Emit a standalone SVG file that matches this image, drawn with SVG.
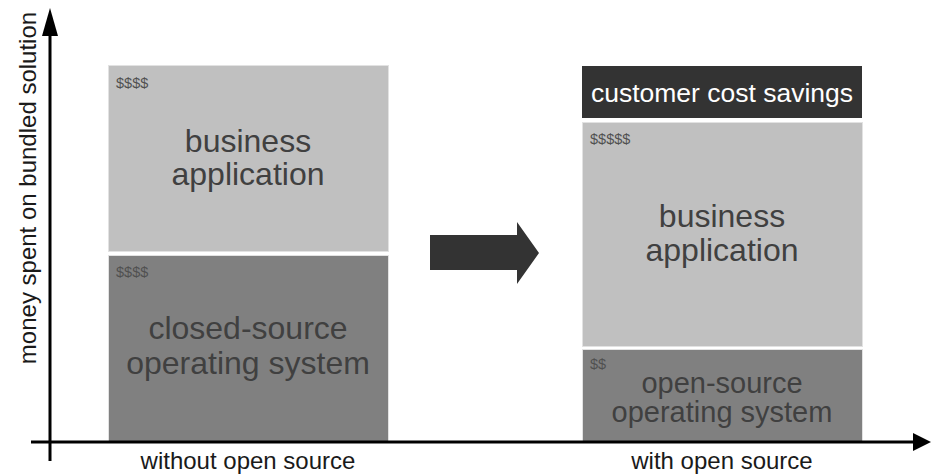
<svg xmlns="http://www.w3.org/2000/svg" width="931" height="475" viewBox="0 0 931 475">
<style>
text{font-family:"Liberation Sans",Arial,sans-serif}
.light{fill:#c0c0c0;stroke:#e2e2e2;stroke-width:1}
.dark{fill:#808080;stroke:#e2e2e2;stroke-width:1}
.big{font-size:32px;fill:#404040;text-anchor:middle}
.mid{font-size:29px;fill:#404040;text-anchor:middle}
.cost{font-size:14.5px;fill:#505050}
.ax{font-size:24px;fill:#1a1a1a;text-anchor:middle}
.axis{stroke:#000;stroke-width:3;fill:none}
</style>
<rect width="931" height="475" fill="#fff"/>
<g id="left-app">
<rect class="light" x="108.5" y="65.5" width="280" height="186"/>
<text class="cost" x="116" y="88">$$$$</text>
<text class="big" x="248" y="152">business</text>
<text class="big" x="248" y="185">application</text>
</g>
<g id="left-os">
<rect class="dark" x="108.5" y="255.5" width="280" height="186"/>
<text class="cost" x="116" y="277">$$$$</text>
<text class="big" x="248" y="339">closed-source</text>
<text class="big" x="248" y="374">operating system</text>
</g>
<g id="savings">
<rect x="582" y="66" width="280" height="52" fill="#333333"/>
<text x="722" y="102" font-size="26.5" fill="#fff" text-anchor="middle">customer cost savings</text>
</g>
<g id="right-app">
<rect class="light" x="582.5" y="122.5" width="280" height="224"/>
<text class="cost" x="590" y="144">$$$$$</text>
<text class="big" x="722" y="227">business</text>
<text class="big" x="722" y="261">application</text>
</g>
<g id="right-os">
<rect class="dark" x="582.5" y="349.5" width="280" height="92"/>
<text class="cost" x="590" y="369">$$</text>
<text class="mid" x="722" y="393">open-source</text>
<text class="mid" x="722" y="422">operating system</text>
</g>
<g id="transition-arrow">
<polygon points="430,235 517,235 517,222 539,253 517,284 517,270 430,270" fill="#333333"/>
</g>
<g id="connectors">
<line class="axis" x1="50" y1="461" x2="50" y2="34"/>
<polygon points="42,36 58,36 50,8" fill="#000"/>
<line class="axis" x1="31" y1="442" x2="915" y2="442"/>
<polygon points="913,433 913,451 931,442" fill="#000"/>
</g>
<g id="labels">
<text class="ax" transform="translate(36,188) rotate(-90)">money spent on bundled solution</text>
<text class="ax" x="248" y="469">without open source</text>
<text class="ax" x="722" y="469" font-size="23">with open source</text>
</g>
</svg>
